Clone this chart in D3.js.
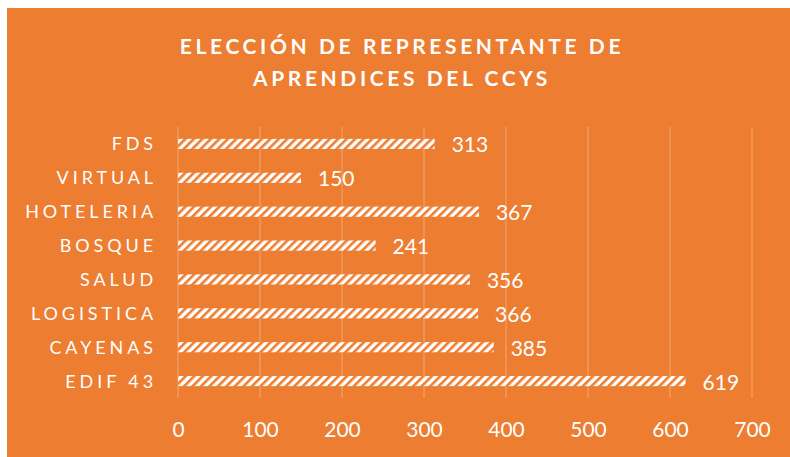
<!DOCTYPE html>
<html>
<head>
<meta charset="utf-8">
<script src="https://cdn.jsdelivr.net/npm/d3@7"></script>
<style>
  body { margin: 0; background: #fff; }
  text { font-family: Lato, "Open Sans", sans-serif; fill: #fff; }
</style>
</head>
<body>
<svg id="chart" width="790" height="457"></svg>
<script>
var categories = ["FDS", "VIRTUAL", "HOTELERIA", "BOSQUE", "SALUD", "LOGISTICA", "CAYENAS", "EDIF 43"];
var votes = [313, 150, 367, 241, 356, 366, 385, 619];
var ticks = [0, 100, 200, 300, 400, 500, 600, 700];
var titleLines = ["ELECCIÓN DE REPRESENTANTE DE", "APRENDICES DEL CCYS"];

var svg = d3.select("#chart");
var orange = "#ED7D31";

// background card
svg.append("rect")
   .attr("x", 7).attr("y", 8)
   .attr("width", 783).attr("height", 449)
   .attr("fill", orange);

// striped fill for bars
var pat = svg.append("defs").append("pattern")
   .attr("id", "stripes")
   .attr("patternUnits", "userSpaceOnUse")
   .attr("width", 6).attr("height", 6)
   .attr("patternTransform", "rotate(45)");
pat.append("rect").attr("width", 6).attr("height", 6).attr("fill", "#fff");
pat.append("rect").attr("width", 2.6).attr("height", 6).attr("fill", orange);

var x = d3.scaleLinear().domain([0, 700]).range([178, 752]);
var y = d3.scaleBand().domain(categories).range([127, 398]).paddingInner(0.7).paddingOuter(0.35);

// title
svg.append("g").selectAll("text")
   .data(titleLines)
   .enter()
   .append("text")
   .attr("x", 402)
   .attr("y", (d, i) => 54 + i * 32)
   .attr("text-anchor", "middle")
   .style("font-size", "21px")
   .style("font-weight", "bold")
   .style("letter-spacing", "3.6px")
   .text(d => d);

// gridlines
svg.append("g").selectAll("line")
   .data(ticks)
   .enter()
   .append("line")
   .attr("x1", d => x(d)).attr("x2", d => x(d))
   .attr("y1", 127).attr("y2", 398)
   .attr("stroke", "#fff")
   .attr("stroke-opacity", 0.33)
   .attr("stroke-width", 1);

// x axis labels
var xAxis = svg.append("g")
   .attr("transform", "translate(0,398)")
   .call(d3.axisBottom(x).tickValues(ticks).tickSize(0).tickPadding(24));
xAxis.select(".domain").remove();
xAxis.selectAll("text")
   .style("font-family", "Lato, 'Open Sans', sans-serif")
   .style("font-size", "21px")
   .style("fill", "#fff");

// category labels
svg.append("g").selectAll("text")
   .data(categories)
   .enter()
   .append("text")
   .attr("x", 157)
   .attr("y", d => y(d) + y.bandwidth() / 2)
   .attr("dy", "0.36em")
   .attr("text-anchor", "end")
   .style("font-size", "18px")
   .style("letter-spacing", "3.9px")
   .text(d => d);

// bars
svg.append("g").selectAll("rect")
   .data(votes)
   .enter()
   .append("rect")
   .attr("x", x(0))
   .attr("y", (d, i) => y(categories[i]))
   .attr("width", d => x(d) - x(0))
   .attr("height", y.bandwidth())
   .attr("fill", "url(#stripes)");

// value labels
svg.append("g").selectAll("text")
   .data(votes)
   .enter()
   .append("text")
   .attr("x", d => x(d) + 17)
   .attr("y", (d, i) => y(categories[i]) + y.bandwidth() / 2 + 1)
   .attr("dy", "0.36em")
   .style("font-size", "21px")
   .text(d => d);
</script>
</body>
</html>
